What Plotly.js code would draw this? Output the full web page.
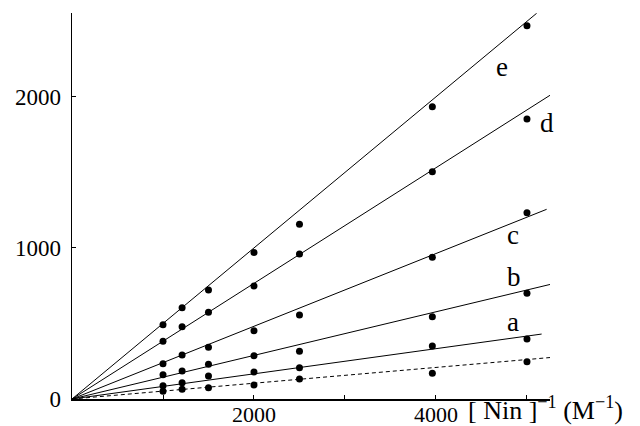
<!DOCTYPE html>
<html>
<head>
<meta charset="utf-8">
<script src="https://cdn.plot.ly/plotly-3.0.1.min.js"></script>
<style>html,body{margin:0;padding:0;background:#fff;}#chart{width:640px;height:426px;}</style>
</head>
<body>
<div id="chart"></div>
<script>
// [Nin]^-1 values (M^-1)
const xInv = [1000, 1210, 1500, 2000, 2500, 3960, 5000];
// series values
const seriesNames = ['dashed', 'a', 'b', 'c', 'd', 'e'];
const yDashed = [51, 64, 75, 93, 132, 170, 247];
const yA = [88, 108, 152, 179, 207, 351, 397];
const yB = [161, 185, 230, 287, 316, 545, 700];
const yC = [234, 291, 342, 452, 556, 938, 1234];
const yD = [382, 479, 574, 748, 960, 1505, 1854];
const yE = [492, 605, 722, 970, 1157, 1936, 2472];
// fitted lines through origin: end points
const lineEndX = [5282, 5161, 5264, 5216, 5297, 5106];
const lineEndY = [276, 430, 760, 1256, 2028, 2554];
// tick labels
const xTickVals = [2000, 4000];
const xTickText = ['2000', '4000'];
const xMinorTickVals = [1000, 3000, 5000];
const yTickVals = [0, 1000, 2000];
const yTickText = ['0', '1000', '2000'];

const allY = [yDashed, yA, yB, yC, yD, yE];
const traces = [];
for (let i = 0; i < seriesNames.length; i++) {
  traces.push({
    x: [0, lineEndX[i]], y: [0, lineEndY[i]], mode: 'lines', type: 'scatter',
    line: {color: '#000', width: 1, dash: i === 0 ? '4px,3px' : 'solid'},
    hoverinfo: 'skip', showlegend: false, cliponaxis: false
  });
  traces.push({
    x: xInv, y: allY[i], mode: 'markers', type: 'scatter', name: seriesNames[i],
    marker: {color: '#000', size: 7}, showlegend: false, cliponaxis: false
  });
}

const FAM = 'Liberation Serif, DejaVu Serif, serif';
function f(size) { return {family: FAM, size: size, color: '#000'}; }
const layout = {
  width: 640, height: 426,
  margin: {l: 72, r: 90, t: 13, b: 27, pad: 0},
  paper_bgcolor: '#fff', plot_bgcolor: '#fff',
  showlegend: false,
  font: f(23),
  xaxis: {
    range: [0, 5253], showgrid: false, zeroline: false,
    showline: true, linecolor: '#000', linewidth: 1.5,
    tickmode: 'array', tickvals: xTickVals, ticktext: xTickText,
    ticks: 'inside', ticklen: 4, tickwidth: 1, tickcolor: '#000',
    minor: {tickmode: 'array', tickvals: xMinorTickVals, ticks: 'inside', ticklen: 4, tickwidth: 1, tickcolor: '#000', showgrid: false},
    tickfont: f(22), ticklabelstandoff: -5
  },
  yaxis: {
    range: [0, 2556], showgrid: false, zeroline: false,
    showline: true, linecolor: '#000', linewidth: 1.5,
    tickmode: 'array', tickvals: yTickVals, ticktext: yTickText,
    ticks: 'inside', ticklen: 4, tickwidth: 1, tickcolor: '#000',
    tickfont: f(23), ticklabelstandoff: 5
  },
  annotations: [
    {text: 'e', x: 4722, y: 2201, xref: 'x', yref: 'y', showarrow: false, font: f(27)},
    {text: 'd', x: 5216, y: 1826, xref: 'x', yref: 'y', showarrow: false, font: f(27)},
    {text: 'c', x: 4850, y: 1086, xref: 'x', yref: 'y', showarrow: false, font: f(27)},
    {text: 'b', x: 4860, y: 810, xref: 'x', yref: 'y', showarrow: false, font: f(27)},
    {text: 'a', x: 4850, y: 512, xref: 'x', yref: 'y', showarrow: false, font: f(27)},
    {text: '[ Nin ]<sup>−1</sup> (M<sup>−1</sup>)', x: 0, y: 0, xref: 'paper', yref: 'paper',
     showarrow: false, xanchor: 'left', yanchor: 'bottom', font: f(26)}
  ]
};
// title annotation placed by pixel position converted to paper coords
const pw = 640 - 72 - 90, ph = 426 - 13 - 27;
layout.annotations[5].x = (466 - 72) / pw;
layout.annotations[5].y = (399 - 427) / ph;

Plotly.newPlot('chart', traces, layout, {staticPlot: true, displayModeBar: false});
</script>
</body>
</html>
